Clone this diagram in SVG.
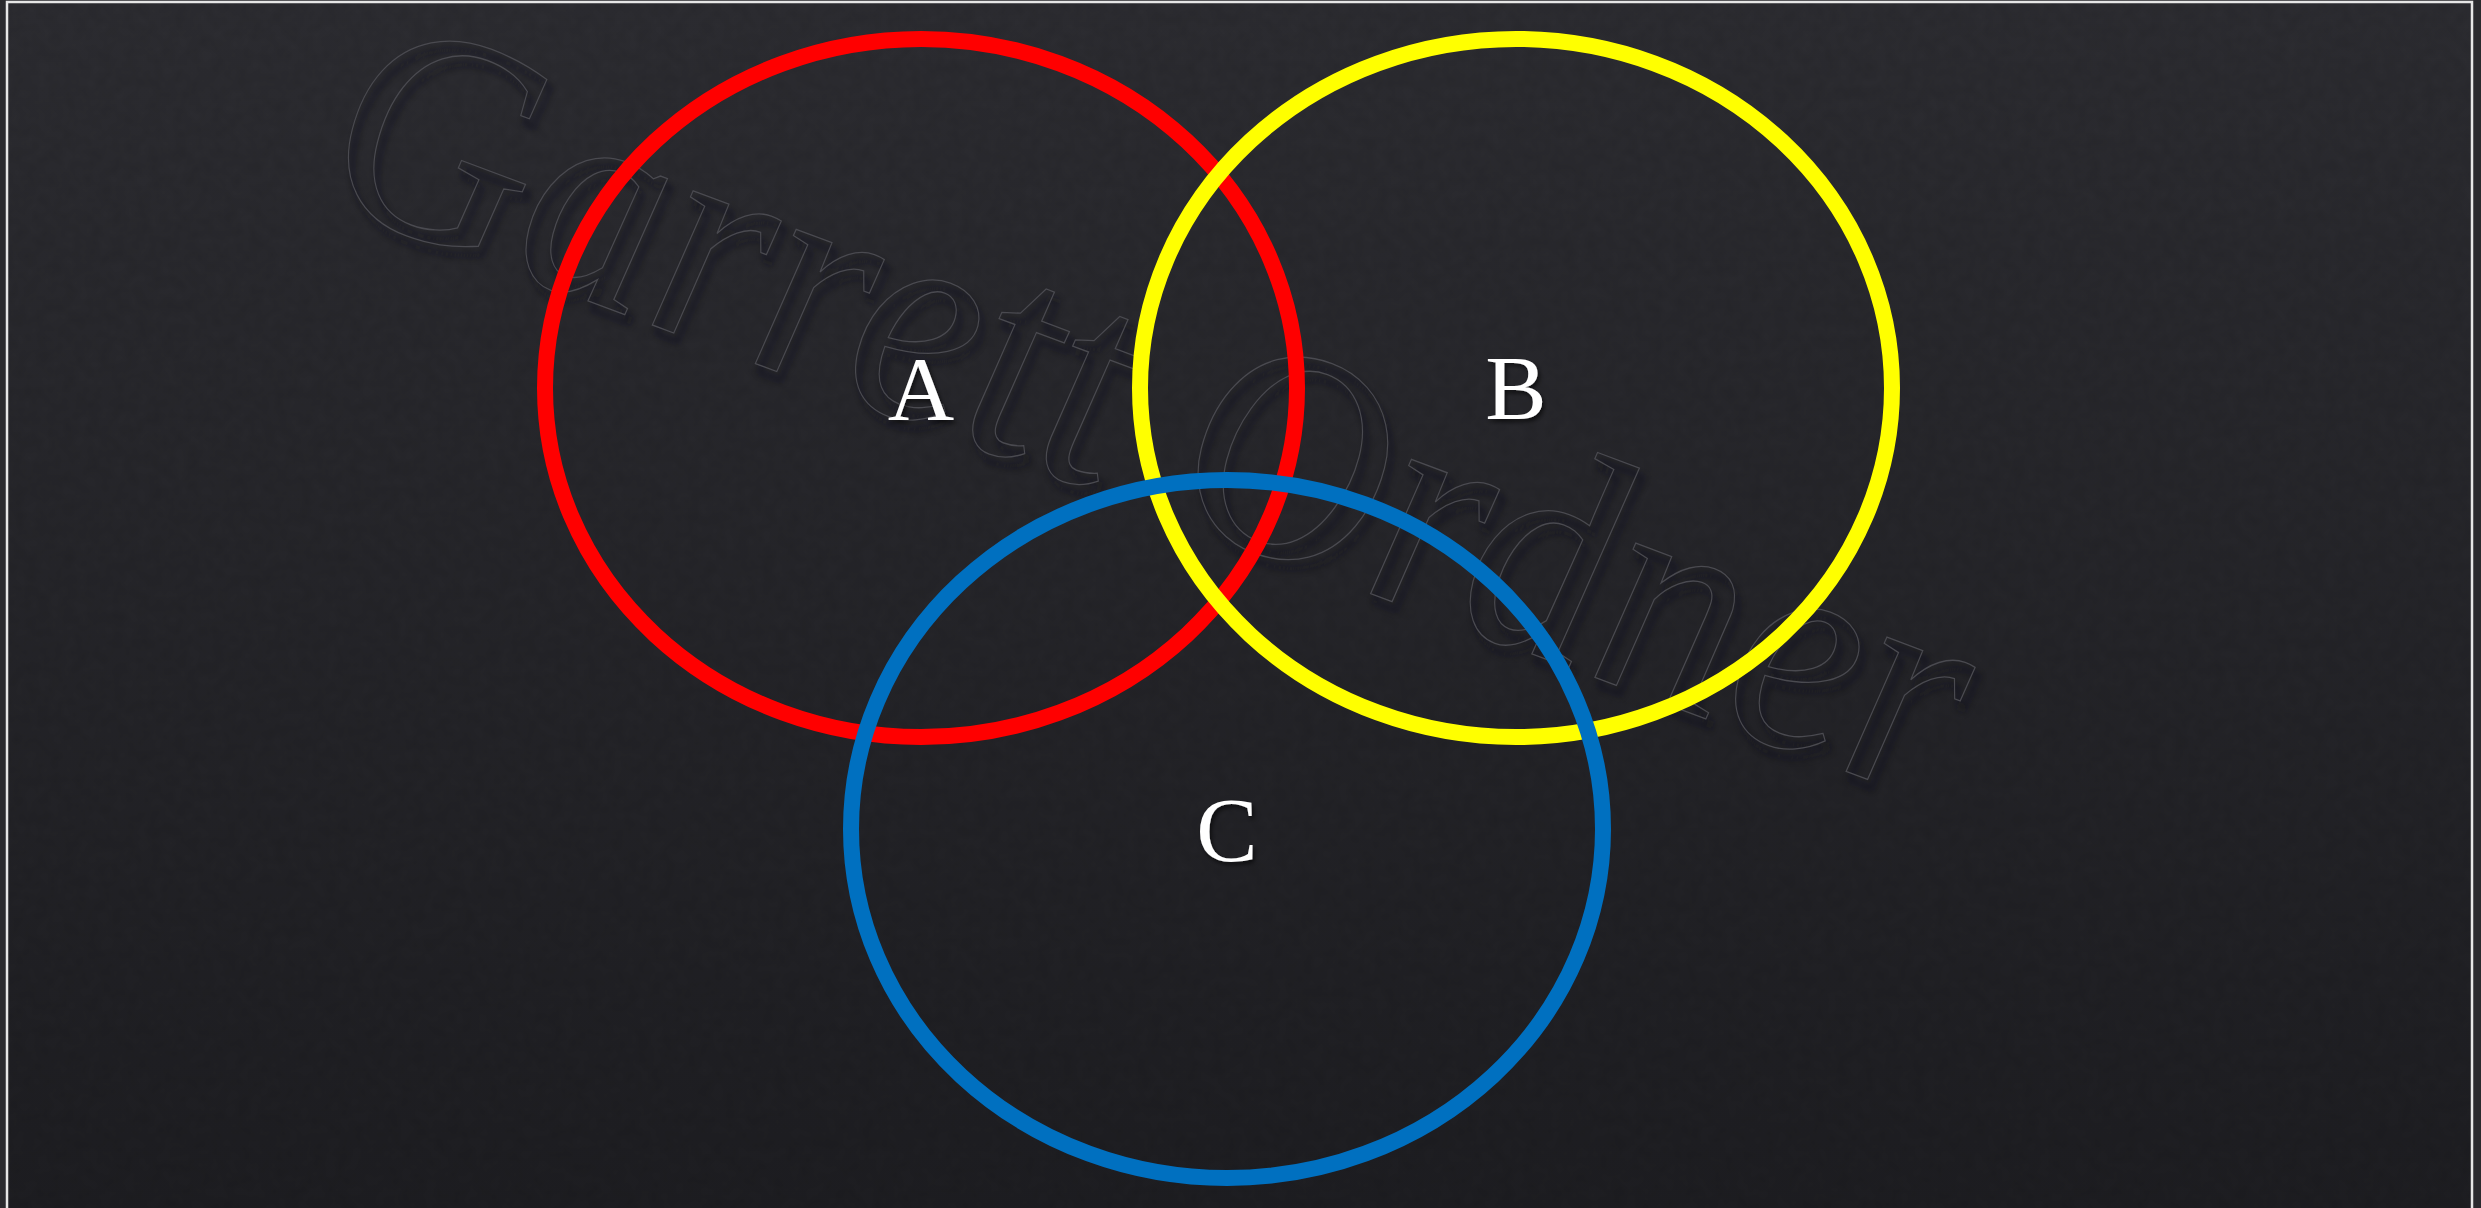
<svg xmlns="http://www.w3.org/2000/svg" width="2481" height="1208" viewBox="0 0 2481 1208">
  <style>
    .ring { fill: none; stroke-width: 16; }
    .label { font-family: "Liberation Serif", "DejaVu Serif", serif; font-size: 92px; fill: #ffffff; text-anchor: middle; }
    .wm { font-family: "Liberation Serif", "DejaVu Serif", serif; font-style: italic; font-size: 305px; fill: none; }
  </style>
  <defs>
    <linearGradient id="bg" x1="0" y1="0" x2="0" y2="1">
      <stop offset="0" stop-color="#2d2d32"/>
      <stop offset="1" stop-color="#1e1e22"/>
    </linearGradient>
    <filter id="noise" x="0" y="0" width="100%" height="100%">
      <feTurbulence type="fractalNoise" baseFrequency="0.08" numOctaves="2" seed="3" result="n"/>
      <feColorMatrix in="n" type="matrix" values="0 0 0 0 0  0 0 0 0 0  0 0 0 0 0  0 0 0 0.12 0"/>
    </filter>
    <filter id="shadow" x="-20%" y="-20%" width="140%" height="140%">
      <feGaussianBlur stdDeviation="3"/>
    </filter>
    <filter id="lblshadow" x="-30%" y="-30%" width="160%" height="160%">
      <feDropShadow dx="2" dy="3" stdDeviation="2" flood-color="#000000" flood-opacity="0.6"/>
    </filter>
  </defs>

  <g id="background">
    <rect x="0" y="0" width="2481" height="1208" fill="#2a2a2e"/>
    <rect x="7" y="2" width="2465" height="1215" fill="url(#bg)"/>
    <rect x="7" y="2" width="2465" height="1215" filter="url(#noise)"/>
    <rect x="7" y="2" width="2465" height="1215" fill="none" stroke="#e6e6e6" stroke-width="2.5"/>
  </g>

  <g id="watermark" transform="translate(318,200) rotate(20.5) skewX(6)">
    <text class="wm" x="6" y="7" stroke="#111114" stroke-width="4" opacity="0.45" filter="url(#shadow)" textLength="1730" lengthAdjust="spacingAndGlyphs">Garrett Ordner</text>
    <text class="wm" x="0" y="0" stroke="#4a4a50" stroke-width="1.3" textLength="1730" lengthAdjust="spacingAndGlyphs">Garrett Ordner</text>
  </g>

  <g id="set-A">
    <ellipse class="ring" cx="921" cy="388" rx="376" ry="349" stroke="#ff0000"/>
  </g>
  <g id="set-B">
    <ellipse class="ring" cx="1516" cy="388" rx="376" ry="349" stroke="#ffff00"/>
  </g>
  <g id="set-C">
    <ellipse class="ring" cx="1227" cy="829" rx="376" ry="349" stroke="#0070c0"/>
  </g>

  <g id="labels" filter="url(#lblshadow)">
    <text class="label" x="921" y="420">A</text>
    <text class="label" x="1516" y="419">B</text>
    <text class="label" x="1227" y="861">C</text>
  </g>

  <g id="connectors"/>
</svg>
